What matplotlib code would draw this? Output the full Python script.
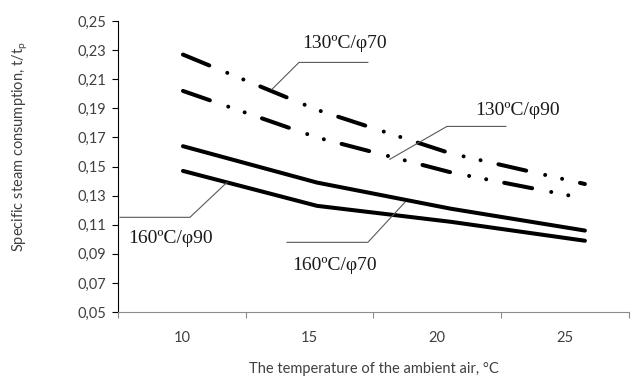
import numpy as np
import matplotlib
matplotlib.use('Agg')
import matplotlib.pyplot as plt
from matplotlib.ticker import FixedLocator, FuncFormatter

# data
temps = [10, 15, 20, 25]
cat_labels = ['10', '15', '20', '25']
s130_70 = [0.227, 0.189, 0.159, 0.138]
s130_90 = [0.202, 0.170, 0.146, 0.128]
s160_70 = [0.164, 0.139, 0.121, 0.106]
s160_90 = [0.147, 0.123, 0.112, 0.099]

plt.rcParams['font.family'] = ['Lato', 'DejaVu Sans']
plt.rcParams['mathtext.fontset'] = 'custom'
plt.rcParams['mathtext.rm'] = 'Lato'
plt.rcParams['lines.scale_dashes'] = False

xcol = '#8c8c8c'
ycol = '#000000'
txtcol = '#404040'

fig = plt.figure(figsize=(6.43, 3.84), dpi=100)
ax = fig.add_axes([0.1835, 0.1875, 0.7945, 0.7575])

# category axis like the spreadsheet original
ax.set_xlim(-0.5, 3.5)
ax.xaxis.set_major_locator(FixedLocator(np.arange(-0.5, 3.6, 1.0)))
ax.xaxis.set_major_formatter(FuncFormatter(lambda v, p: ''))
ax.set_xticks(range(len(cat_labels)), cat_labels, minor=True)
ax.tick_params(axis='x', which='minor', length=0, pad=14, labelsize=10.5, labelcolor=txtcol)
ax.tick_params(axis='x', which='major', length=4.5, color=xcol, width=0.8)

ax.set_ylim(0.05, 0.25)
ax.set_yticks(np.arange(0.05, 0.2501, 0.02))
ax.yaxis.set_major_formatter(FuncFormatter(lambda v, p: f'{v:.2f}'.replace('.', ',')))
ax.tick_params(axis='y', length=4.5, color=ycol, width=0.8, labelsize=10.5, labelcolor=txtcol, pad=4)
for s in ['top', 'right']:
    ax.spines[s].set_visible(False)
ax.spines['left'].set_color(ycol)
ax.spines['left'].set_linewidth(0.8)
ax.spines['bottom'].set_color(xcol)
ax.spines['bottom'].set_linewidth(0.8)

ax.set_ylabel('Specific steam consumption, t/t$_{\\mathrm{p}}$', fontsize=10.5, color=txtcol)
ax.yaxis.set_label_coords(-0.172, 0.57)
ax.set_xlabel('The temperature of the ambient air, °C', fontsize=10.5, color=txtcol, labelpad=12)

# curves on an overlaid numeric axis
ax2 = ax.twiny()
ax2.set_xlim(7.575, 26.64)
ax2.set_ylim(0.05, 0.25)
ax2.axis('off')

dash = (0, (20.5, 14.0, 0.01, 12.5, 0.01, 13.2))
ax2.plot(temps, s130_70, color='black', lw=2.9, linestyle=dash, dash_capstyle='round')
ax2.plot(temps, s130_90, color='black', lw=2.9, linestyle=dash, dash_capstyle='round')
ax2.plot(temps, s160_70, color='black', lw=2.9, solid_capstyle='round')
ax2.plot(temps, s160_90, color='black', lw=2.9, solid_capstyle='round')

# callout labels with leader lines
lead = dict(color='#595959', lw=0.8)
tfont = dict(family='Liberation Serif', fontsize=14, color='#1a1a1a', ha='center', va='center')
ax2.plot([16.90, 14.33, 13.32], [0.2216, 0.2216, 0.2031], **lead)
ax2.text(16.04, 0.2347, '130ºC/φ70', **tfont)
ax2.plot([22.05, 19.85, 17.72], [0.1776, 0.1776, 0.1550], **lead)
ax2.text(22.5, 0.1886, '130ºC/φ90', **tfont)
ax2.plot([7.65, 10.26, 11.64], [0.1151, 0.1151, 0.1391], **lead)
ax2.text(9.55, 0.1007, '160ºC/φ90', **tfont)
ax2.plot([13.88, 16.90, 18.28], [0.0979, 0.0979, 0.1254], **lead)
ax2.text(15.67, 0.0821, '160ºC/φ70', **tfont)

fig.savefig('out.png', dpi=100)
